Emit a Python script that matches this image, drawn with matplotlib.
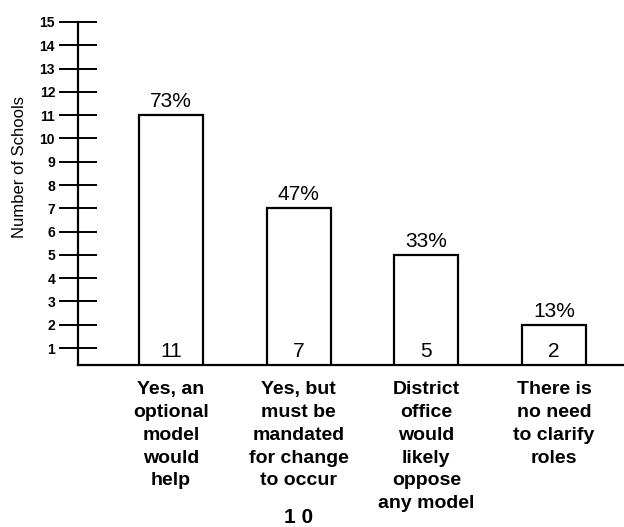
import matplotlib.pyplot as plt
from matplotlib import transforms

plt.rcParams['font.family'] = ['Liberation Sans', 'DejaVu Sans']

# data
categories = [
    "Yes, an\noptional\nmodel\nwould\nhelp",
    "Yes, but\nmust be\nmandated\nfor change\nto occur",
    "District\noffice\nwould\nlikely\noppose\nany model",
    "There is\nno need\nto clarify\nroles",
]
counts = [11, 7, 5, 2]
percents = ["73%", "47%", "33%", "13%"]
yticks = list(range(1, 16))

W, H = 624, 527
fig = plt.figure(figsize=(W / 100, H / 100), dpi=100)

# axes placed in pixel terms: y axis at x=78, baseline at y=365, top tick at y=22
ax = fig.add_axes([78 / W, (H - 365) / H, (W - 78) / W, (365 - 22) / H])
ax.set_ylim(0.27, 15)
ax.set_xlim(-0.728, 3.548)

x = list(range(len(counts)))
ax.bar(x, counts, width=0.5, bottom=0, facecolor='white', edgecolor='black',
       linewidth=1.6, zorder=2)

for xi, c, p in zip(x, counts, percents):
    ax.annotate(p, (xi, c), xytext=(0, 3), textcoords='offset points',
                ha='center', va='bottom', fontsize=15)
    ax.annotate(str(c), (xi, 0.27), xytext=(0, 3), textcoords='offset points',
                ha='center', va='bottom', fontsize=15)

# category labels under the baseline
trans = transforms.blended_transform_factory(ax.transData, fig.transFigure)
for xi, cat in zip(x, categories):
    ax.text(xi, (H - 381) / H, cat, transform=trans, ha='center', va='top',
            fontsize=14, fontweight='bold', linespacing=1.45)

for s in ['top', 'right']:
    ax.spines[s].set_visible(False)
ax.spines['left'].set_linewidth(1.6)
ax.spines['bottom'].set_linewidth(1.6)

ax.set_xticks([])
ax.set_yticks(yticks)
ax.set_yticklabels([str(t) for t in yticks], fontsize=10, fontweight='bold',
                   family=['Liberation Sans Narrow', 'Liberation Sans'])
ax.tick_params(axis='y', direction='inout', length=27, width=1.4, pad=3)

fig.text(20 / W, (H - 167) / H, "Number of Schools", rotation=90,
         ha='center', va='center', fontsize=12)

# page number cut off at the bottom of the scan
fig.text(299 / W, (H - 508) / H, "1 0", ha='center', va='top',
         fontsize=15, fontweight='bold')

fig.savefig('out.png', dpi=100)
